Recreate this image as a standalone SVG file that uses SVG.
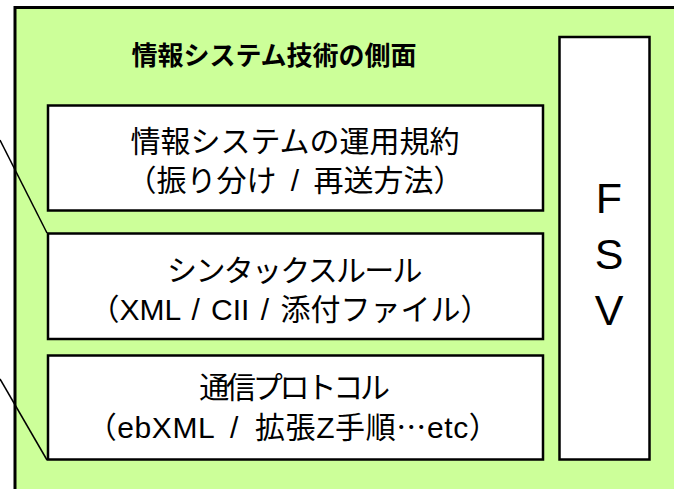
<svg xmlns="http://www.w3.org/2000/svg" width="674" height="489" viewBox="0 0 674 489">
  <style>
    .box { fill: #ffffff; stroke: #000000; stroke-width: 2.5; }
    .outer { fill: #ccff99; stroke: #000000; stroke-width: 3; }
    .t { font-family: "Liberation Sans", "Noto Sans CJK JP", sans-serif; font-size: 30px; fill: #000000; text-anchor: middle; }
    .title { font-family: "Noto Sans CJK JP", sans-serif; font-size: 26px; font-weight: bold; fill: #000000; text-anchor: middle; }
    .fsv { font-family: "Liberation Sans", sans-serif; font-size: 43px; fill: #000000; text-anchor: middle; }
    .cj { font-family: "Noto Sans CJK JP", sans-serif; }
    .conn line { stroke: #000000; stroke-width: 1.5; }
  </style>
  <rect width="674" height="489" fill="#ffffff"/>
  <g id="frame">
    <rect class="outer" x="15" y="7.5" width="680" height="500"/>
    <text class="title" x="274" y="65">情報システム技術の側面</text>
  </g>
  <g id="connectors" class="conn">
    <line x1="0" y1="140" x2="47" y2="233"/>
    <line x1="0" y1="379" x2="47" y2="460"/>
  </g>
  <g id="node-operation">
    <rect class="box" x="48" y="105.5" width="495" height="105"/>
    <text class="t" x="295" y="152">情報システムの運用規約</text>
    <text class="t" x="295" y="191" style="word-spacing:6px">（振り分け / 再送方法）</text>
  </g>
  <g id="node-syntax">
    <rect class="box" x="48" y="233.5" width="495" height="105.5"/>
    <text class="t" x="294" y="281" style="letter-spacing:-1.7px">シンタックスルール</text>
    <text class="t" x="290" y="320" style="word-spacing:3px">（XML / CII / 添付ファイル）</text>
  </g>
  <g id="node-protocol">
    <rect class="box" x="48" y="355.5" width="495" height="104"/>
    <text class="t" x="293" y="398" style="letter-spacing:-3.2px">通信プロトコル</text>
    <text class="t" x="293" y="438" style="word-spacing:7px;letter-spacing:0.6px">（ebXML / 拡張Z手順<tspan class="cj">…</tspan>etc）</text>
  </g>
  <g id="node-fsv">
    <rect class="box" x="559.5" y="37" width="90" height="422.5"/>
    <text class="fsv" x="609" y="213">F</text>
    <text class="fsv" x="609" y="269">S</text>
    <text class="fsv" x="609" y="325">V</text>
  </g>
</svg>
